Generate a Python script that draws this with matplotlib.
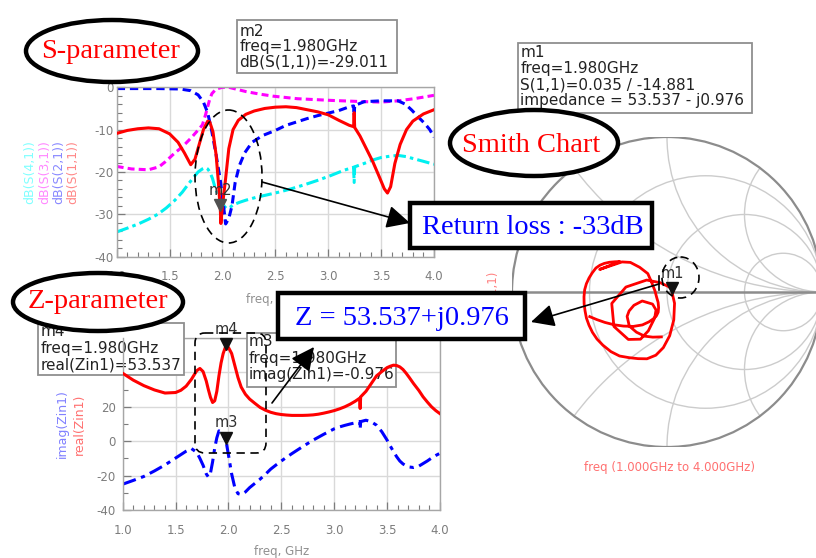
import numpy as np
import matplotlib
matplotlib.use("Agg")
import matplotlib.pyplot as plt
import matplotlib.transforms as mtransforms
from matplotlib.patches import Ellipse, Rectangle, FancyBboxPatch, Circle, FancyArrowPatch
from matplotlib.ticker import MultipleLocator, FormatStrFormatter, FuncFormatter

plt.rcParams['lines.scale_dashes'] = False
plt.rcParams['axes.unicode_minus'] = False
plt.rcParams['font.family'] = ['DejaVu Sans']

# ---------------- S-parameters (dB) ----------------
freq_s11 = [1.00, 1.10, 1.20, 1.30, 1.40, 1.50, 1.58, 1.64, 1.70, 1.74, 1.78, 1.82, 1.86, 1.88,
            1.91, 1.94, 1.96, 1.98, 1.985, 2.00, 2.03, 2.06, 2.10, 2.15, 2.22, 2.30, 2.40, 2.50,
            2.60, 2.70, 2.80, 2.90, 3.00, 3.10, 3.20, 3.24, 3.245, 3.25, 3.30, 3.36, 3.42, 3.48,
            3.53, 3.56, 3.59, 3.63, 3.68, 3.74, 3.80, 3.90, 4.00]
db_s11 = [-10.9, -10.2, -9.8, -9.6, -9.8, -11.0, -13.0, -15.5, -18.3, -17.0, -13.5, -10.0, -8.0, -8.2,
          -10.5, -16.0, -22.0, -29.011, -32.2, -28.0, -21.5, -14.5, -10.0, -7.8, -6.4, -5.6, -5.0, -4.7,
          -4.6, -4.8, -5.3, -5.8, -6.5, -7.8, -9.0, -9.3, -6.0, -9.5, -11.5, -14.5, -17.5, -21.0,
          -24.0, -25.0, -23.5, -18.0, -13.5, -10.0, -8.0, -6.3, -5.3]

freq_s21 = [1.00, 1.20, 1.40, 1.60, 1.70, 1.77, 1.82, 1.86, 1.90, 1.94, 1.98, 2.01, 2.03, 2.06,
            2.09, 2.12, 2.16, 2.21, 2.28, 2.38, 2.50, 2.60, 2.70, 2.80, 2.90, 3.00, 3.10, 3.20,
            3.24, 3.245, 3.25, 3.34, 3.50, 3.66, 3.73, 3.79, 3.85, 3.91, 3.96, 4.00]
db_s21 = [-0.3, -0.3, -0.3, -0.4, -0.8, -1.8, -3.5, -6.0, -10.5, -16.0, -22.0, -28.0, -32.3, -31.0,
          -28.0, -22.5, -18.5, -15.5, -13.0, -11.4, -10.2, -9.0, -8.2, -7.4, -6.7, -6.1, -5.5, -4.6,
          -4.4, -6.8, -4.3, -3.4, -3.2, -3.2, -4.0, -5.4, -7.0, -8.5, -10.0, -11.8]

freq_s31 = [1.00, 1.14, 1.30, 1.40, 1.46, 1.55, 1.62, 1.71, 1.78, 1.81, 1.84, 1.86, 1.88, 1.90,
            1.94, 2.00, 2.06, 2.14, 2.22, 2.35, 2.48, 2.71, 3.03, 3.34, 3.50, 3.66, 3.81, 4.00]
db_s31 = [-18.7, -19.3, -19.5, -18.8, -17.6, -15.5, -14.1, -11.8, -9.8, -8.9, -6.5, -4.6, -2.8, -1.5,
          -0.4, 0.0, 0.0, -0.5, -1.0, -1.6, -2.1, -2.7, -3.1, -3.4, -3.5, -3.2, -2.7, -1.9]

freq_s41 = [1.00, 1.10, 1.205, 1.30, 1.39, 1.47, 1.55, 1.62, 1.68, 1.73, 1.77, 1.81, 1.84, 1.86,
            1.88, 1.905, 1.93, 1.96, 1.99, 2.02, 2.04, 2.07, 2.10, 2.16, 2.22, 2.32, 2.41, 2.53,
            2.65, 2.78, 2.90, 3.02, 3.15, 3.24, 3.245, 3.25, 3.34, 3.42, 3.50, 3.58, 3.66, 3.74,
            3.81, 3.90, 4.00]
db_s41 = [-34.2, -33.3, -32.3, -31.2, -30.0, -28.5, -26.7, -24.8, -22.8, -21.2, -20.0, -19.3, -19.0, -19.3,
          -20.0, -21.5, -23.7, -25.5, -26.9, -28.2, -28.7, -28.4, -27.8, -27.2, -26.7, -26.0, -25.5, -24.8,
          -24.0, -23.0, -22.0, -20.9, -19.6, -18.9, -22.5, -18.8, -18.0, -17.2, -16.6, -16.3, -16.1, -16.4,
          -16.9, -17.5, -18.2]

s_ylabels = ['dB(S(4,1))', 'dB(S(3,1))', 'dB(S(2,1))', 'dB(S(1,1))']

# ---------------- Input impedance Zin1 (Ohm) ----------------
freq_z = [1.00, 1.10, 1.20, 1.30, 1.40, 1.50, 1.55, 1.60, 1.65, 1.70, 1.73, 1.76, 1.79, 1.81,
          1.83, 1.85, 1.87, 1.89, 1.91, 1.93, 1.95, 1.97, 1.98, 2.00, 2.03, 2.06, 2.09, 2.12,
          2.16, 2.20, 2.25, 2.30, 2.35, 2.40, 2.45, 2.50, 2.55, 2.60, 2.65, 2.70, 2.75, 2.80,
          2.85, 2.90, 2.95, 3.00, 3.05, 3.10, 3.15, 3.20, 3.24, 3.245, 3.25, 3.30, 3.35, 3.40,
          3.45, 3.50, 3.53, 3.56, 3.59, 3.62, 3.65, 3.68, 3.71, 3.75, 3.80, 3.84, 3.88, 3.92,
          3.96, 4.00]
z_real = [39.5, 35.5, 32.3, 29.8, 28.0, 28.3, 29.6, 32.0, 36.0, 41.0, 42.3, 40.5, 35.0, 30.0,
          25.5, 22.5, 23.5, 29.0, 38.0, 45.5, 51.0, 54.5, 53.537, 54.5, 51.0, 44.0, 37.0, 31.5,
          27.3, 24.5, 22.0, 19.6, 18.0, 16.8, 16.0, 15.5, 15.2, 15.0, 15.0, 15.0, 15.1, 15.3,
          15.7, 16.3, 17.0, 17.8, 18.8, 20.0, 21.5, 23.3, 25.0, 19.0, 25.8, 29.0, 33.5, 38.0,
          40.5, 42.8, 43.6, 44.2, 44.0, 43.2, 41.7, 39.5, 37.0, 33.5, 29.5, 25.8, 22.8, 20.0,
          17.8, 16.0]
z_imag = [-25.0, -22.8, -20.5, -17.3, -13.8, -9.8, -7.8, -5.8, -4.3, -6.5, -10.0, -14.0, -19.0, -20.8,
          -18.5, -12.0, -4.0, 2.0, 6.0, 5.5, 3.5, 1.0, -0.976, -8.0, -19.0, -27.0, -30.5, -31.0,
          -29.5, -27.0, -24.5, -22.0, -19.2, -16.2, -13.8, -11.5, -9.3, -7.2, -5.2, -3.2, -1.3, 0.6,
          2.3, 4.0, 5.6, 7.2, 8.3, 9.2, 10.0, 10.7, 11.3, 7.0, 11.4, 12.2, 11.3, 9.3,
          5.5, 0.6, -2.8, -6.0, -9.0, -11.5, -13.2, -14.3, -15.0, -15.3, -14.5, -13.0, -11.5, -9.8,
          -8.3, -7.0]
Z0 = 50.0

# Smith chart grid values (normalised resistance / reactance)
smith_r = [1 / 3, 1.0, 3.0]
smith_x = [0.5, 1.0, 2.0]

marker_freq = 1.98
m2_lines = ['m2', 'freq=1.980GHz', 'dB(S(1,1))=-29.011']
m1_lines = ['m1', 'freq=1.980GHz', 'S(1,1)=0.035 / -14.881', 'impedance = 53.537 - j0.976']
m4_lines = ['m4', 'freq=1.980GHz', 'real(Zin1)=53.537']
m3_lines = ['m3', 'freq=1.980GHz', 'imag(Zin1)=-0.976']

# ---------------- figure ----------------
W, H, DPI = 816, 558, 100
fig = plt.figure(figsize=(W / DPI, H / DPI), dpi=DPI)
fig.patch.set_facecolor('white')
# pixel coordinates, origin top-left
px = mtransforms.Affine2D().scale(1.0 / W, -1.0 / H).translate(0, 1) + fig.transFigure


def fig_rect(x0, y0, x1, y1):
    return [x0 / W, 1 - y1 / H, (x1 - x0) / W, (y1 - y0) / H]


GRID = '#d9d9d9'
FRAME = '#a6a6a6'
TICKC = '#7c7c7c'
SERIF = 'Liberation Serif'
RED, BLUE, MAG, CYAN = '#ff0000', '#0000ff', '#ff00ff', '#00f0f0'


def style_axes(ax, ymaj, ymin, ypad):
    ax.set_xlim(1.0, 4.0)
    ax.xaxis.set_major_locator(MultipleLocator(0.5))
    ax.xaxis.set_minor_locator(MultipleLocator(0.1))
    ax.yaxis.set_major_locator(MultipleLocator(ymaj))
    ax.yaxis.set_minor_locator(MultipleLocator(ymin))
    ax.xaxis.set_major_formatter(FormatStrFormatter('%.1f'))
    ax.grid(True, which='major', color=GRID, lw=1.0)
    ax.set_axisbelow(True)
    for s in ax.spines.values():
        s.set_color(FRAME)
        s.set_linewidth(1.0)
    ax.tick_params(which='both', direction='in', color=TICKC, labelcolor=TICKC,
                   labelsize=8.5, top=False, right=False)
    ax.tick_params(which='major', length=6, width=0.9)
    ax.tick_params(which='minor', length=3.5, width=0.8)
    ax.tick_params(axis='x', pad=10)
    ax.tick_params(axis='y', pad=ypad)


def add_marker(ax, x, y, label, color='#202020'):
    tr = mtransforms.offset_copy(ax.transData, fig=fig, x=0, y=5, units='dots')
    ax.plot([x], [y], marker='v', ms=8, color=color, transform=tr, zorder=6, clip_on=False)
    ax.annotate(label, xy=(x, y), xytext=(0, 20), textcoords='offset pixels',
                ha='center', va='center', fontsize=10.5, color='#303030', zorder=6)


def readout(ax, box, lines, x_text, y_first, step, zorder):
    x0, y0, x1, y1 = box
    ax.add_patch(Rectangle((x0, y0), x1 - x0, y1 - y0, transform=px, fc='white', ec='#8f8f8f',
                           lw=1.3, zorder=zorder, clip_on=False))
    for i, t in enumerate(lines):
        ax.text(x_text, y_first + i * step, t, transform=px, ha='left', va='center',
                fontsize=11, color='#222222', zorder=zorder + 0.05, clip_on=False)


# ---- S-parameter panel ----
ax_s = fig.add_axes(fig_rect(116.7, 87.3, 434, 256.5))
ax_s.set_ylim(-40, 0)
style_axes(ax_s, 10, 2, 2.5)
ax_s.plot(freq_s41, db_s41, color=CYAN, lw=2.2, ls=(0, (9, 3, 2.5, 3)), zorder=2)
ax_s.plot(freq_s31, db_s31, color=MAG, lw=2.2, ls=(0, (5, 3)), zorder=2)
ax_s.plot(freq_s21, db_s21, color=BLUE, lw=2.2, ls=(0, (6, 3.5)), zorder=2)
ax_s.plot(freq_s11, db_s11, color=RED, lw=2.2, zorder=3)
add_marker(ax_s, marker_freq, db_s11[freq_s11.index(marker_freq)], 'm2', color='#505050')

s_label_colors = ['#80ffff', '#ff88ff', '#8888ff', '#ff8888']
for i, (t, c) in enumerate(zip(s_ylabels, s_label_colors)):
    fig.text(30 + i * 14.4, 172, t, transform=px, rotation=90, ha='center', va='center',
             fontsize=9, color=c)
fig.text(274, 300, 'freq, GHz', transform=px, ha='center', va='center', fontsize=8.5, color='#909090')

# ---- Z-parameter panel ----
ax_z = fig.add_axes(fig_rect(122.7, 338, 440, 510))
ax_z.set_ylim(-40, 60)
style_axes(ax_z, 20, 10, 5)
# the two upper labels sit beneath the marker readout
ax_z.yaxis.set_major_formatter(FuncFormatter(lambda v, p: '' if v > 30 else '%d' % v))
ax_z.spines['top'].set_zorder(0.9)
ax_z.plot(freq_z, z_imag, color=BLUE, lw=2.2, ls=(0, (10, 4, 3, 4)), zorder=2)
ax_z.plot(freq_z, z_real, color=RED, lw=2.2, zorder=3)
iz = freq_z.index(marker_freq)
add_marker(ax_z, marker_freq, z_real[iz], 'm4', color='#111111')
add_marker(ax_z, marker_freq, z_imag[iz], 'm3', color='#111111')
readout(ax_z, (38, 323, 184, 375), m4_lines, 41, 332, 16.5, 1.0)
readout(ax_z, (247, 333, 396, 387), m3_lines, 249, 342, 16.5, 1.0)

fig.text(62, 424, 'imag(Zin1)', transform=px, rotation=90, ha='center', va='center',
         fontsize=9, color='#8080ff')
fig.text(79, 424, 'real(Zin1)', transform=px, rotation=90, ha='center', va='center',
         fontsize=9, color='#ff7070')
fig.text(282, 551, 'freq, GHz', transform=px, ha='center', va='center', fontsize=8.5, color='#909090')

# ---- Smith chart ----
ax_sm = fig.add_axes(fig_rect(512, 137, 822, 447))
ax_sm.set_xlim(-1, 1)
ax_sm.set_ylim(-1, 1)
ax_sm.axis('off')
unit = Circle((0, 0), 1.0, transform=ax_sm.transData, fc='none', ec='none')
ax_sm.add_patch(unit)
for r in smith_r:
    c = Circle((r / (1 + r), 0), 1 / (1 + r), fc='none', ec='#cccccc', lw=1.0, zorder=1)
    ax_sm.add_patch(c)
    c.set_clip_path(unit)
for x in smith_x:
    for sgn in (1, -1):
        c = Circle((1, sgn / x), 1 / x, fc='none', ec='#cccccc', lw=1.0, zorder=1)
        ax_sm.add_patch(c)
        c.set_clip_path(unit)
ax_sm.add_patch(Circle((0, 0), 1.0, fc='none', ec='#8c8c8c', lw=1.6, zorder=2))
ax_sm.plot([-1, 1], [0, 0], color='#8c8c8c', lw=1.8, zorder=2)

zn = (np.array(z_real) + 1j * np.array(z_imag)) / Z0
gamma = (zn - 1) / (zn + 1)
ax_sm.plot(gamma.real, gamma.imag, color=RED, lw=2.0, zorder=3)
add_marker(ax_sm, gamma.real[iz], gamma.imag[iz], 'm1', color='#111111')

fig.text(493, 288, 'S(1,1)', transform=px, rotation=90, ha='center', va='center',
         fontsize=8.5, color='#ff8080')
fig.text(669, 467, 'freq (1.000GHz to 4.000GHz)', transform=px, ha='center', va='center',
         fontsize=8.5, color='#ff7070')

# ---- annotation layer ----
ov = fig.add_axes([0, 0, 1, 1], zorder=10)
ov.set_xlim(0, W)
ov.set_ylim(H, 0)
ov.axis('off')
ov.patch.set_alpha(0)

readout(ov, (237, 20, 397, 73), m2_lines, 239.5, 31, 15.3, 2)
readout(ov, (518, 43, 752, 113), m1_lines, 520.5, 52.5, 16.0, 2)

for (cx, cy, w, h) in [(112, 51, 172, 62), (98, 302, 170, 58), (534, 143, 168, 66)]:
    ov.add_patch(Ellipse((cx, cy), w, h, fc='white', ec='black', lw=3.2, zorder=3))
title_kw = dict(ha='center', va='baseline', fontsize=20.5, color=RED, family=SERIF, zorder=4)
ov.text(110.5, 58, 'S-parameter', **title_kw)
ov.text(97.5, 308, 'Z-parameter', **title_kw)
ov.text(531.5, 152.5, 'Smith Chart', **title_kw)

# dashed highlights
dash = (0, (6, 4))
ov.add_patch(Ellipse((228.5, 176.5), 67, 133, fc='none', ec='black', lw=1.2, ls=dash, zorder=3))
ov.add_patch(FancyBboxPatch((195, 333), 71, 120, boxstyle='round,pad=0,rounding_size=10',
                            fc='none', ec='black', lw=1.2, ls=dash, zorder=3))
ov.add_patch(Ellipse((680.5, 277.5), 37, 41, fc='none', ec='black', lw=1.2, ls=dash, zorder=3))

# arrows
arrow_kw = dict(arrowstyle='-|>,head_length=0.65,head_width=0.32', mutation_scale=22,
                color='black', lw=1.2, shrinkA=0, shrinkB=0, zorder=5)
ov.add_patch(FancyArrowPatch((262, 182), (410, 223), **arrow_kw))
ov.add_patch(FancyArrowPatch((272, 403), (314, 347), **arrow_kw))
ov.add_patch(FancyArrowPatch((659, 284), (531, 322), **arrow_kw))
ov.plot([659, 659], [276, 290], color='black', lw=1.2, zorder=5)

# callout boxes
ov.add_patch(Rectangle((410, 203), 242, 45, fc='white', ec='black', lw=3.2, zorder=4))
ov.text(533, 234, 'Return loss : -33dB', ha='center', va='baseline', fontsize=20.5,
        color=BLUE, family=SERIF, zorder=5)
ov.add_patch(Rectangle((278, 293), 247, 46, fc='white', ec='black', lw=3.2, zorder=4))
ov.text(401.5, 325, 'Z = 53.537+j0.976', ha='center', va='baseline', fontsize=20.5,
        color=BLUE, family=SERIF, zorder=5)

fig.savefig('out.png', dpi=DPI)
